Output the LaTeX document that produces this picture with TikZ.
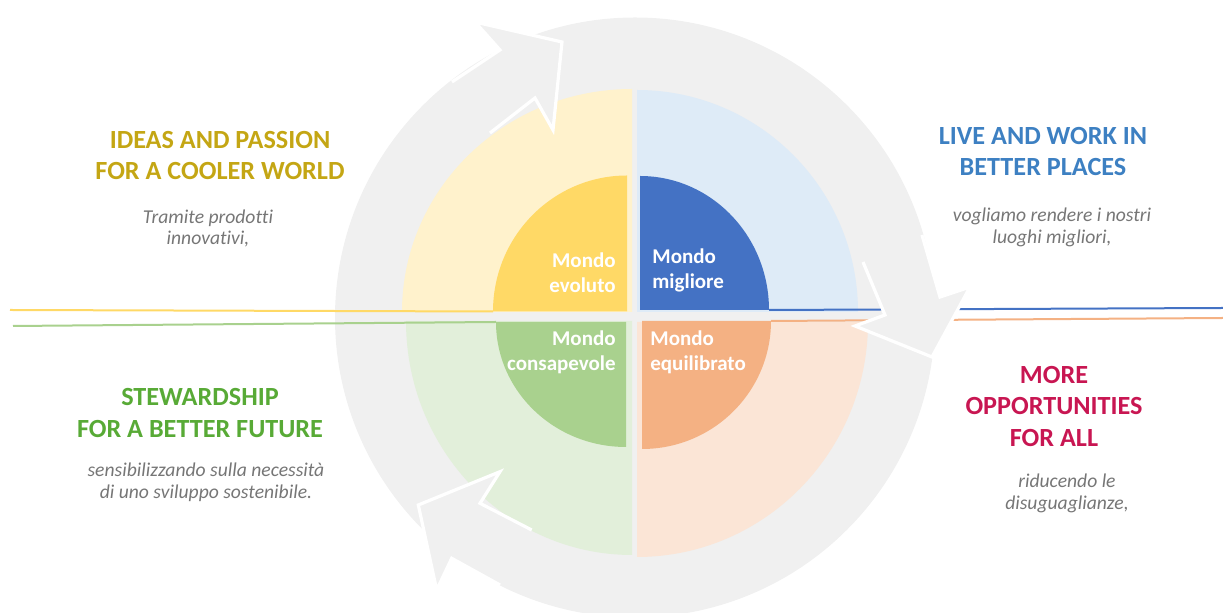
\documentclass[tikz,border=0pt]{standalone}
\usepackage{fontspec}
\setmainfont{Carlito}[Ligatures=NoCommon]
\usepackage{tikz}
\definecolor{ringgrey}{RGB}{240,240,240}
\definecolor{paleyellow}{RGB}{255,242,204}
\definecolor{paleblue}{RGB}{222,235,247}
\definecolor{palegreen}{RGB}{226,239,218}
\definecolor{paleorange}{RGB}{251,229,214}
\definecolor{qyellow}{RGB}{255,217,102}
\definecolor{qblue}{RGB}{68,114,196}
\definecolor{qgreen}{RGB}{169,209,142}
\definecolor{qorange}{RGB}{244,177,131}
\definecolor{hyellow}{RGB}{196,166,20}
\definecolor{hblue}{RGB}{61,128,194}
\definecolor{hgreen}{RGB}{88,170,54}
\definecolor{hred}{RGB}{200,22,82}
\definecolor{notegrey}{RGB}{118,118,118}
\tikzstyle{heading}=[align=center,font=\bfseries\fontsize{13.1}{15.85}\selectfont,inner sep=0pt]
\tikzstyle{note}=[align=center,text=notegrey,font=\itshape\fontsize{9.8}{10.8}\selectfont,inner sep=0pt]
\tikzstyle{mondo}=[text=white,font=\bfseries\fontsize{10.5}{12.5}\selectfont,inner sep=0pt]
\tikzstyle{head}=[fill=ringgrey,draw=white,line width=1.6pt,line join=miter]
\tikzstyle{rule}=[line width=1pt]

\begin{document}
\begin{tikzpicture}[x=0.5pt,y=0.5pt]
        \useasboundingbox (0,0) rectangle (1223,-613);
        \clip (0,0) rectangle (1223,-613);
        \coordinate (c) at (635,-317.5);
        \fill[ringgrey] (c) circle (300);
        % outer quadrants
        \fill[paleyellow] (632,-312) -- ++(-230,0) arc[start angle=180,end angle=90,x radius=230,y radius=223] -- cycle;
        \fill[paleblue] (637,-312) -- ++(221,0) arc[start angle=0,end angle=90,x radius=221,y radius=222] -- cycle;
        \fill[palegreen] (632,-321) -- ++(-226,0) arc[start angle=180,end angle=270,x radius=226,y radius=234] -- cycle;
        \fill[paleorange] (637,-322) -- ++(231,0) arc[start angle=360,end angle=270,x radius=231,y radius=235] -- cycle;
        % inner quadrants
        \coordinate (ye) at (627,-311.5);
        \coordinate (bl) at (640,-310);
        \coordinate (gr) at (626,-322);
        \coordinate (or) at (642,-321);
        \fill[qyellow] (ye) -- ++(-134,0) coordinate (yeend) arc[start angle=180,end angle=90,x radius=134,y radius=136] -- cycle;
        \fill[qblue] (bl) -- ++(129,0) coordinate (blend) arc[start angle=0,end angle=90,x radius=129,y radius=134] -- cycle;
        \fill[qgreen] (gr) -- ++(-130,0) coordinate (grend) arc[start angle=180,end angle=270,x radius=130,y radius=125] -- cycle;
        \fill[qorange] (or) -- ++(129,0) coordinate (orend) arc[start angle=0,end angle=-90,x radius=129,y radius=128] -- cycle;
        % rules
        \coordinate (yl) at (10,-310);
        \coordinate (gl) at (13,-326);
        \coordinate (br) at (1223,-308);
        \coordinate (orr) at (1223,-318);
        \draw[rule,qyellow] (yl) -- (yeend);
        \draw[rule,qgreen] (gl) -- (grend);
        \draw[rule,qblue] (blend) -- (br);
        \draw[rule,qorange] (orend) -- (orr);
        % arrow heads
        \filldraw[head] (452,-82) -- (500,-50) -- (475,-22) -- (562,-42) -- (553,-130) -- (535,-98) -- (490,-133);
        \filldraw[head] (922,-235) -- (940,-297) -- (970,-287) -- (932,-357) -- (855,-326) -- (885,-315) -- (863,-262);
        \filldraw[head] (500,-585) -- (451.7,-558.3) -- (436.7,-590) -- (418.3,-505) -- (500,-471.7) -- (480,-503.3) -- (531.7,-530);
        % texts (base = last line)
        \node[heading,text=hyellow,anchor=base] (ideas) at (220,-180) {IDEAS AND PASSION\\FOR A COOLER WORLD};
        \node[note,anchor=base] (tramite) at (208,-245) {Tramite prodotti\\innovativi,};
        \node[heading,text=hblue,anchor=base] (live) at (1043,-176) {LIVE AND WORK IN\\BETTER PLACES};
        \node[note,anchor=base] (vogliamo) at (1052,-243.3) {vogliamo rendere i nostri\\luoghi migliori,};
        \node[heading,text=hgreen,anchor=base] (steward) at (200,-437.7) {STEWARDSHIP\\FOR A BETTER FUTURE};
        \node[note,anchor=base] (sensib) at (206,-498.3) {sensibilizzando sulla necessità\\di uno sviluppo sostenibile.};
        \node[heading,text=hred,anchor=base] (more) at (1054,-446.7) {MORE\\OPPORTUNITIES\\FOR ALL};
        \node[note,anchor=base] (riduc) at (1067,-509.3) {riducendo le\\disuguaglianze,};
        \node[mondo,align=right,anchor=base east] (evol) at (616,-292.7) {Mondo\\evoluto};
        \node[mondo,align=left,anchor=base west] (migl) at (652,-288.3) {Mondo\\migliore};
        \node[mondo,align=right,anchor=base east] (consap) at (616,-370.7) {Mondo\\consapevole};
        \node[mondo,align=left,anchor=base west] (equil) at (650,-370.7) {Mondo\\equilibrato};
      \end{tikzpicture}
\end{document}
